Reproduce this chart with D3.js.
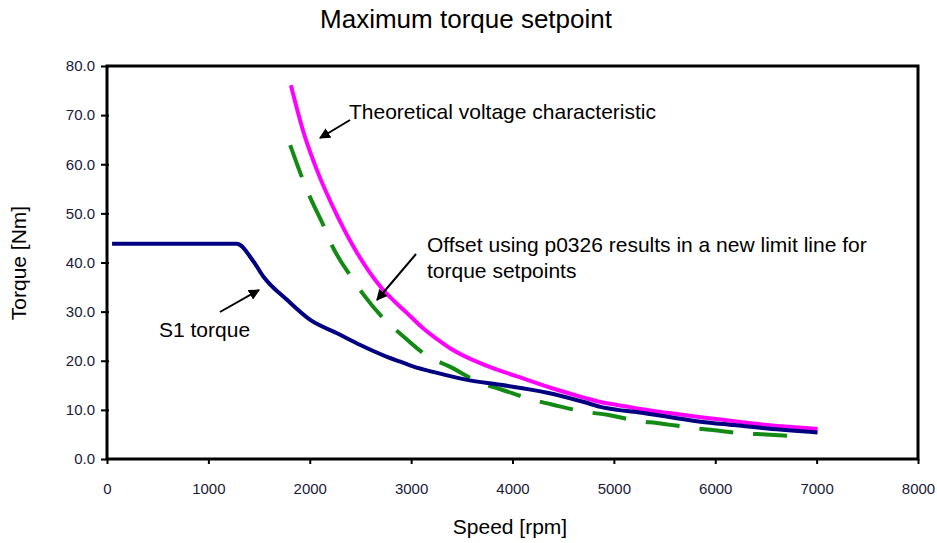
<!DOCTYPE html>
<html><head><meta charset="utf-8">
<script src="https://cdn.jsdelivr.net/npm/d3@7"></script>
<style>body{margin:0;background:#fff;} text{font-family:"Liberation Sans",Arial,sans-serif;}</style>
</head><body>
<svg id="c" width="937" height="543"></svg>
<script>
const xTicks = [0,1000,2000,3000,4000,5000,6000,7000,8000];
const yTicks = [0,10,20,30,40,50,60,70,80];

const s1Speed  = [50,1281,1445,1544,1775,2005,2269,2499,2762,2894,3025,3223,3553,3881,4343,4705,4869,5034,5198,5528,5857,6186,6515,7009];
const s1Torque = [43.8,43.8,40.2,37.1,32.4,28.3,25.6,23.2,20.8,19.8,18.8,17.7,16.1,15.1,13.5,11.6,10.6,10.0,9.6,8.6,7.6,6.9,6.2,5.4];

const voltSpeed  = [1814,1939,2071,2269,2466,2696,2960,3124,3256,3388,3717,4046,4375,4705,4869,5034,5198,5528,5857,6186,6515,7009];
const voltTorque = [76.1,66.5,58.8,49.6,42.0,35.1,29.7,26.5,24.4,22.5,19.2,16.8,14.5,12.5,11.6,11.0,10.4,9.4,8.5,7.7,6.9,6.1];

const offSpeed  = [1807,1939,1988,2136,2219,2417,2525,2756,2910,3173,3371,3684,3881,4210,4408,4721,4935,5247,5445,5775,5972,6285,6499,6812];
const offTorque = [63.9,56.5,54.0,47.5,43.5,36.8,33.6,28.0,25.2,20.8,18.9,15.5,14.2,12.0,11.0,9.6,9.0,7.7,7.3,6.3,5.9,5.2,5.0,4.6];

const svg = d3.select("#c");
const L=107, R=918, T=66, B=459;
const x = d3.scaleLinear().domain([0,8000]).range([L,R]);
const y = d3.scaleLinear().domain([0,80]).range([B,T]);

svg.append("text").attr("x",466).attr("y",28).attr("text-anchor","middle")
  .attr("font-size",26).attr("fill","#000").text("Maximum torque setpoint");

// axes
const xa = svg.append("g").attr("transform",`translate(0,${B})`)
  .call(d3.axisBottom(x).tickValues(xTicks).tickFormat(d3.format("d")).tickSize(5).tickSizeOuter(0));
xa.select(".domain").remove();
xa.selectAll("line").attr("stroke","#000").attr("stroke-width",2);
xa.selectAll("text").attr("font-size",15).attr("fill","#1a1a3a").attr("y",24).attr("dy","0.71em");

const ya = svg.append("g").attr("transform",`translate(${L},0)`)
  .call(d3.axisLeft(y).tickValues(yTicks).tickFormat(d3.format(".1f")).tickSize(6).tickSizeOuter(0));
ya.select(".domain").remove();
ya.selectAll("line").attr("stroke","#000").attr("stroke-width",2).attr("x2",-6).attr("x1",2);
ya.selectAll("text").attr("font-size",15).attr("fill","#1a1a3a").attr("x",-12);

svg.append("rect").attr("x",L).attr("y",T).attr("width",R-L).attr("height",B-T)
  .attr("fill","none").attr("stroke","#000").attr("stroke-width",3);

const line = d3.line().x(d=>x(d[0])).y(d=>y(d[1])).curve(d3.curveMonotoneX);
svg.append("path").datum(d3.zip(offSpeed,offTorque)).attr("d",line)
  .attr("fill","none").attr("stroke","#138a13").attr("stroke-width",4).attr("stroke-dasharray","34 20");
svg.append("path").datum(d3.zip(voltSpeed,voltTorque)).attr("d",line)
  .attr("fill","none").attr("stroke","#ff00ff").attr("stroke-width",4);
svg.append("path").datum(d3.zip(s1Speed,s1Torque)).attr("d",line)
  .attr("fill","none").attr("stroke","#000080").attr("stroke-width",4);

// labels
svg.append("text").attr("transform","translate(26,263) rotate(-90)").attr("text-anchor","middle")
  .attr("font-size",21).attr("fill","#000").text("Torque [Nm]");
svg.append("text").attr("x",510).attr("y",534).attr("text-anchor","middle")
  .attr("font-size",21).attr("fill","#000").text("Speed [rpm]");

// annotations
const defs = svg.append("defs");
defs.append("marker").attr("id","ah").attr("viewBox","0 0 10 10").attr("refX",9).attr("refY",5)
  .attr("markerWidth",11).attr("markerHeight",11).attr("markerUnits","userSpaceOnUse").attr("orient","auto")
  .append("path").attr("d","M0,0 L10,5 L0,10 z").attr("fill","#000");
function arrow(x1,y1,x2,y2){
  svg.append("line").attr("x1",x1).attr("y1",y1).attr("x2",x2).attr("y2",y2)
    .attr("stroke","#000").attr("stroke-width",2).attr("marker-end","url(#ah)");
}
svg.append("text").attr("x",349).attr("y",119).attr("font-size",21).attr("fill","#000").text("Theoretical voltage characteristic");
arrow(350,120,320,138);
svg.append("text").attr("x",427).attr("y",252).attr("font-size",21).attr("fill","#000").text("Offset using p0326 results in a new limit line for");
svg.append("text").attr("x",427).attr("y",278).attr("font-size",21).attr("fill","#000").text("torque setpoints");
arrow(416,254,377,300);
svg.append("text").attr("x",159).attr("y",337).attr("font-size",21).attr("fill","#000").text("S1 torque");
arrow(220,312,259,290);
</script>
</body></html>
